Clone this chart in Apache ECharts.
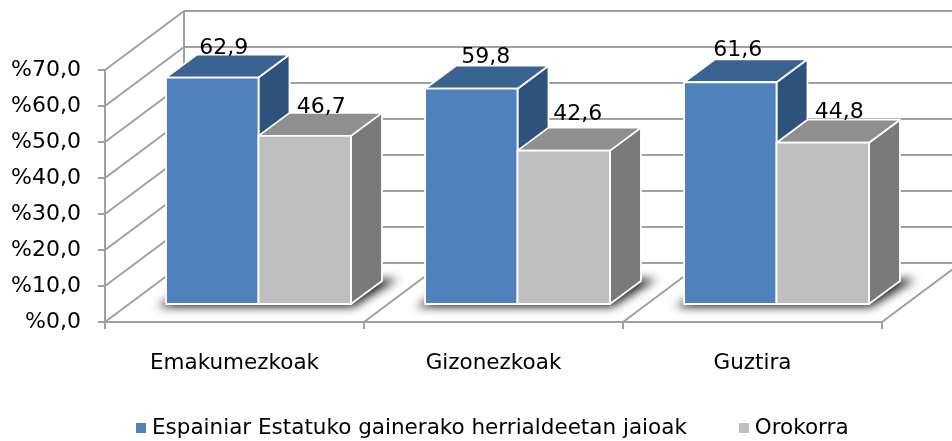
<!DOCTYPE html>
<html><head><meta charset="utf-8"><style>html,body{margin:0;padding:0;background:#fff}#c{width:952px;height:441px}</style>
<script src="https://cdn.jsdelivr.net/npm/echarts@6/dist/echarts.min.js"></script></head>
<body><div id="c"></div>
<script>
const categories = ['Emakumezkoak', 'Gizonezkoak', 'Guztira'];
const seriesNames = ['Espainiar Estatuko gainerako herrialdeetan jaioak', 'Orokorra'];
const spainBorn = [62.9, 59.8, 61.6];
const overall = [46.7, 42.6, 44.8];
const gridValues = [0, 10, 20, 30, 40, 50, 60, 70];

const FONT = '"DejaVu Sans", Verdana, sans-serif';
const GRID = '#a0a0a0';
const GRID_W = 2;
// projection of the 3D box, in px
const WALL = [79, -59], FLOOR = [24, -18], DEPTH = [31, -23];
const BAR_RATIO = 0.357;
const LABEL_SHIFT = [[11.5, 14.5, 7.5], [16.5, 14, 16.5]];
const LABEL_RISE = [[24, 26, 26.5], [23, 30.5, 24.5]];
const OFFSCREEN = 3000;
const COLORS = [
  { front: '#4F81BD', top: '#3B6391', side: '#2F527C' },
  { front: '#BFBFBF', top: '#8F8F8F', side: '#7A7A7A' }
];
const fmt = v => v.toFixed(1).replace('.', ',');
const poly = (points, fill, extra) => ({
  type: 'polygon', shape: { points },
  style: Object.assign({ fill, stroke: '#fff', lineWidth: 1.8, lineJoin: 'round' }, extra || {})
});
const gline = (a, b) => ({
  type: 'line', shape: { x1: a[0], y1: a[1], x2: b[0], y2: b[1] },
  style: { stroke: GRID, lineWidth: GRID_W }
});

function wallItem(params, api) {
  const v = api.value(0);
  const bw = api.size([1, 0])[0];
  const first = api.coord([0, v]);
  const last = api.coord([categories.length - 1, v]);
  const l = [first[0] - bw / 2, first[1]];
  const back = [l[0] + WALL[0], l[1] + WALL[1]];
  const backEnd = [last[0] + bw / 2 + WALL[0], l[1] + WALL[1]];
  const children = [gline(l, back), gline(back, backEnd)];
  if (v === 0) {
    categories.forEach((_, i) => {
      const x = api.coord([i, 0])[0] + bw / 2;
      children.push(gline([x, l[1]], [x + WALL[0], l[1] + WALL[1]]));
    });
    const t = api.coord([0, gridValues[gridValues.length - 1]]);
    children.push(gline(back, [back[0], t[1] + WALL[1]]));
  }
  return { type: 'group', children };
}

// soft floor shadow: the shape sits off-canvas, only its blurred shadow lands on the floor
function shadowItem(params, api) {
  const c = api.coord([api.value(0), 0]);
  const bw = api.size([1, 0])[0];
  const w = bw * BAR_RATIO;
  const x0 = c[0] - w + FLOOR[0] - 9 - OFFSCREEN, x1 = c[0] + w + FLOOR[0] + 2 - OFFSCREEN;
  const y0 = c[1] + FLOOR[1] + 3;
  const tx = DEPTH[0] + 14, ty = DEPTH[1] - 5;
  return {
    type: 'polygon',
    shape: { points: [[x0, y0], [x1, y0], [x1 + tx, y0 + ty], [x0 + tx, y0 + ty]] },
    style: { fill: '#000', shadowBlur: 10, shadowColor: 'rgba(0,0,0,0.85)', shadowOffsetX: OFFSCREEN }
  };
}

function barItem(s) {
  return function (params, api) {
    const i = api.value(0), v = api.value(1);
    const c = api.coord([i, v]), base = api.coord([i, 0]);
    const bw = api.size([1, 0])[0];
    const w = bw * BAR_RATIO;
    const x0 = c[0] - w + s * w + FLOOR[0], x1 = x0 + w;
    const yT = c[1] + FLOOR[1], yB = base[1] + FLOOR[1];
    const [dx, dy] = DEPTH;
    const col = COLORS[s];
    return {
      type: 'group',
      children: [
        poly([[x1, yT], [x1 + dx, yT + dy], [x1 + dx, yB + dy], [x1, yB]], col.side),
        poly([[x0, yT], [x1, yT], [x1 + dx, yT + dy], [x0 + dx, yT + dy]], col.top),
        poly([[x0, yT], [x1, yT], [x1, yB], [x0, yB]], col.front),
        {
          type: 'text', z2: 100,
          style: {
            x: (x0 + x1) / 2 + LABEL_SHIFT[s][i], y: yT - LABEL_RISE[s][i] - 5.5,
            text: fmt(v), fill: '#000', font: '22px ' + FONT,
            align: 'center', verticalAlign: 'middle'
          }
        }
      ]
    };
  };
}

const chart = echarts.init(document.getElementById('c'), null, { renderer: 'canvas' });
chart.setOption({
  animation: false,
  backgroundColor: '#fff',
  tooltip: { show: false },
  grid: { left: 105, right: 70, top: 70, bottom: 119, containLabel: false },
  legend: {
    left: 131, top: 412, itemWidth: 10, itemHeight: 10, itemGap: 52,
    icon: 'rect', selectedMode: false,
    data: seriesNames,
    textStyle: { fontFamily: FONT, fontSize: 21.5, color: '#000', padding: [0, 0, 2, 1] }
  },
  xAxis: {
    type: 'category', data: categories,
    axisLine: { lineStyle: { color: GRID, width: GRID_W } },
    axisTick: { show: true, length: 7, lineStyle: { color: GRID, width: GRID_W } },
    axisLabel: { color: '#000', fontFamily: FONT, fontSize: 21.5, margin: 30 },
    splitLine: { show: false }
  },
  yAxis: {
    type: 'value', min: 0, max: 70, interval: 10,
    axisLine: { show: true, lineStyle: { color: GRID, width: GRID_W } },
    axisTick: { show: true, length: 7, lineStyle: { color: GRID, width: GRID_W } },
    axisLabel: { color: '#000', fontFamily: FONT, fontSize: 22, margin: 24, padding: [2, 0, 0, 0], formatter: v => '%' + fmt(v) },
    splitLine: { show: false }
  },
  series: [
    { type: 'custom', name: 'walls', silent: true, clip: false, z: 1, renderItem: wallItem,
      encode: { y: 0 }, data: gridValues.map(v => [v]) },
    { type: 'custom', name: 'shadow', silent: true, clip: false, z: 1.5, renderItem: shadowItem,
      encode: { x: 0 }, data: categories.map((_, i) => [i]) },
    { type: 'custom', name: seriesNames[0], silent: true, clip: false, z: 2, renderItem: barItem(0),
      itemStyle: { color: COLORS[0].front }, encode: { x: 0, y: 1 }, data: spainBorn.map((v, i) => [i, v]) },
    { type: 'custom', name: seriesNames[1], silent: true, clip: false, z: 2, renderItem: barItem(1),
      itemStyle: { color: COLORS[1].front }, encode: { x: 0, y: 1 }, data: overall.map((v, i) => [i, v]) }
  ]
});
</script></body></html>
